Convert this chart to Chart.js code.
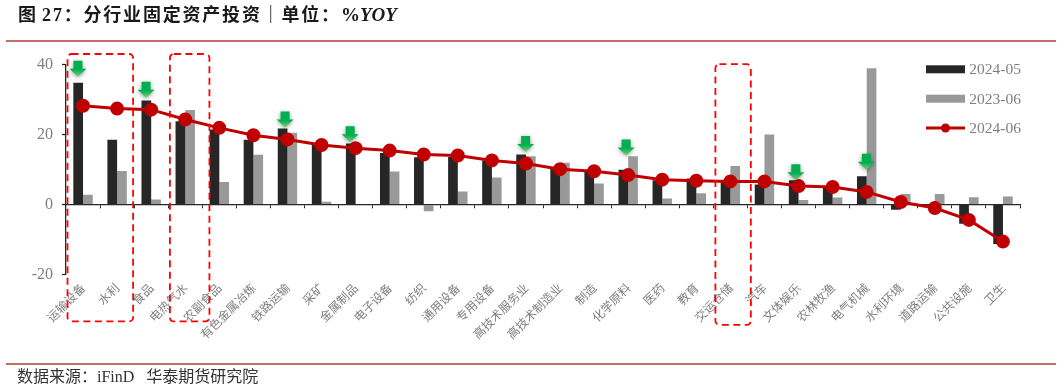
<!DOCTYPE html>
<html>
<head>
<meta charset="utf-8">
<script src="https://cdn.jsdelivr.net/npm/chart.js@4"></script>
<style>
html,body{margin:0;padding:0;background:#fff;width:1061px;height:389px;overflow:hidden}
#wrap{position:relative;width:1061px;height:389px}
canvas{position:absolute;left:0;top:0}
.rule{position:absolute;left:6px;width:1050px;background:#c96a6a}
#title{position:absolute;left:18px;top:0;font:bold 18px "Liberation Serif","Noto Sans CJK SC",serif;color:#1a1a1a;letter-spacing:1.8px;word-spacing:-2px;white-space:pre}
#title i{letter-spacing:0;font-size:19px}
#source{position:absolute;left:17px;top:363px;font:16px "Liberation Serif","Noto Sans CJK SC",serif;color:#333;white-space:pre}
</style>
</head>
<body>
<div id="wrap">
<canvas id="c" width="1061" height="389"></canvas>
<div id="title">图 27：分行业固定资产投资｜单位：<span style="font-size:19px;letter-spacing:0">%</span><i>YOY</i></div>
<div class="rule" style="top:40px;height:2px"></div>
<div class="rule" style="top:363px;height:2px"></div>
<div id="source">数据来源：iFinD   华泰期货研究院</div>
</div>
<script>
const categories = ["运输设备","水利","食品","电热气水","农副食品","有色金属冶炼","铁路运输","采矿","金属制品","电子设备","纺织","通用设备","专用设备","高技术服务业","高技术制造业","制造","化学原料","医药","教育","交运仓储","汽车","文体娱乐","农林牧渔","电气机械","水利环境","道路运输","公共设施","卫生"];
const may2024 = [34.8,18.5,29.7,23.8,21.4,18.5,21.7,17.4,17.4,14.7,13.5,13.6,12.6,14.3,10.2,9.5,9.9,6.9,7.4,6.9,5.7,6.9,5,8.1,-1.5,-0.3,-5.5,-11.3];
const jun2023 = [2.8,9.6,1.4,27,6.4,14.2,20.5,0.8,0,9.4,-1.9,3.7,7.7,13.8,11.9,6,13.8,1.7,3.2,11,20,1.3,2,38.9,3,3,2.1,2.3];
const jun2024 = [28.2,27.4,27.1,24.3,21.9,19.8,18.6,17,16.1,15.4,14.3,14,12.6,11.7,10.1,9.5,8.4,7.1,6.8,6.6,6.6,5.3,5,3.6,0.7,-1,-4.4,-10.6];
const yTicks = [-20,0,20,40];
const arrowCategories = ["运输设备","食品","铁路运输","金属制品","高技术服务业","化学原料","文体娱乐","电气机械"];
const arrowTipValues = [36.5,30.5,22,17.8,15,14,6.9,9.9];
const arrowShift = [-0.15,-0.15,-0.07,-0.16,-0.01,-0.06,-0.08,-0.01]; // in category widths
// highlight boxes: [first category position, last category position, top value, bottom value]
const boxFrom = [-0.455,2.55,18.56];
const boxTo = [1.47,3.71,19.6];
const boxTop = [43,43,40.1];
const boxBottom = [-33.4,-33.4,-34.4];

const DARK="#262626", GRAY="#999999", RED="#c00000", TICK="#7f7f7f";
const CJK='"Noto Sans CJK SC"', SERIF='"Liberation Serif"';

const overlay = {
  id:"overlay",
  afterDraw(chart){
    const ctx=chart.ctx, xs=chart.scales.x, ys=chart.scales.y;
    const step=xs.getPixelForValue(1)-xs.getPixelForValue(0);
    arrowCategories.forEach((name,k)=>{
      const i=categories.indexOf(name);
      const cx=xs.getPixelForValue(i)+arrowShift[k]*step, tip=ys.getPixelForValue(arrowTipValues[k]);
      const top=tip-16;
      ctx.save();
      ctx.shadowColor="rgba(0,0,0,0.4)";ctx.shadowBlur=4;ctx.shadowOffsetY=1;
      const g=ctx.createLinearGradient(0,top,0,tip);
      g.addColorStop(0,"#00b050");g.addColorStop(0.55,"#00b050");g.addColorStop(1,"#7ccf7c");
      ctx.fillStyle=g;
      ctx.beginPath();
      ctx.moveTo(cx-4.5,top);ctx.lineTo(cx+4.5,top);ctx.lineTo(cx+4.5,top+8);ctx.lineTo(cx+8.5,top+8);
      ctx.lineTo(cx,tip);ctx.lineTo(cx-8.5,top+8);ctx.lineTo(cx-4.5,top+8);ctx.closePath();ctx.fill();
      ctx.restore();
    });
    ctx.save();
    ctx.strokeStyle="#ff0000";ctx.lineWidth=1.8;ctx.setLineDash([7,4.5]);
    boxFrom.forEach((f,k)=>{
      const x0=xs.getPixelForValue(0)+f*step, x1=xs.getPixelForValue(0)+boxTo[k]*step;
      const y0=ys.getPixelForValue(boxTop[k]), y1=ys.getPixelForValue(boxBottom[k]);
      ctx.beginPath();ctx.roundRect(x0,y0,x1-x0,y1-y0,4);ctx.stroke();
    });
    ctx.restore();
    const items=chart.data.datasets;
    const lx=926,lw=39,ly=[69.3,98.7,128];
    ctx.save();
    ctx.textBaseline="middle";ctx.textAlign="left";ctx.font="15.5px "+SERIF;
    items.forEach((d,k)=>{
      if(d.type==="line"){
        ctx.strokeStyle=d.borderColor;ctx.lineWidth=3;
        ctx.beginPath();ctx.moveTo(lx,ly[k]);ctx.lineTo(lx+lw,ly[k]);ctx.stroke();
        ctx.fillStyle=d.borderColor;ctx.beginPath();ctx.arc(lx+lw/2,ly[k],4.5,0,Math.PI*2);ctx.fill();
      }else{
        ctx.fillStyle=d.backgroundColor;ctx.fillRect(lx,ly[k]-4,lw,8);
      }
      ctx.fillStyle=TICK;ctx.fillText(d.label,969.3,ly[k]+1);
    });
    ctx.restore();
  }
};

new Chart(document.getElementById("c"),{
  data:{
    labels:categories,
    datasets:[
      {type:"bar",label:"2024-05",data:may2024,backgroundColor:DARK,order:1,categoryPercentage:0.57,barPercentage:1},
      {type:"bar",label:"2023-06",data:jun2023,backgroundColor:GRAY,order:1,categoryPercentage:0.57,barPercentage:1},
      {type:"line",label:"2024-06",data:jun2024,borderColor:RED,backgroundColor:RED,borderWidth:3,pointRadius:5.5,pointBackgroundColor:RED,pointBorderColor:RED,tension:0,order:0}
    ]
  },
  options:{
    responsive:false,animation:false,
    layout:{padding:{top:64.5,right:41,left:0,bottom:0}},
    plugins:{legend:{display:false},tooltip:{enabled:false}},
    scales:{
      x:{type:"category",position:{y:0},offset:true,
        grid:{offset:true,drawOnChartArea:false,drawTicks:true,tickLength:3,color:DARK,tickWidth:1},
        border:{color:DARK,width:1.3},ticks:{display:false}},
      x2:{type:"category",axis:"x",position:"bottom",labels:categories,offset:true,
        grid:{display:false},border:{display:false},
        ticks:{autoSkip:false,minRotation:45,maxRotation:45,padding:-2,color:TICK,font:{family:CJK,size:12}},
        afterFit(s){s.height=114.5;}},
      y:{min:-20,max:40,position:"left",
        afterBuildTicks(s){s.ticks=yTicks.map(v=>({value:v}));},
        grid:{drawOnChartArea:false,drawTicks:true,tickLength:4,color:DARK,tickWidth:1.3},
        border:{color:DARK,width:1.3},
        ticks:{padding:9,color:TICK,font:{family:SERIF,size:16}},
        afterFit(s){s.width=66;}}
    }
  },
  plugins:[overlay]
});
</script>
</body>
</html>
